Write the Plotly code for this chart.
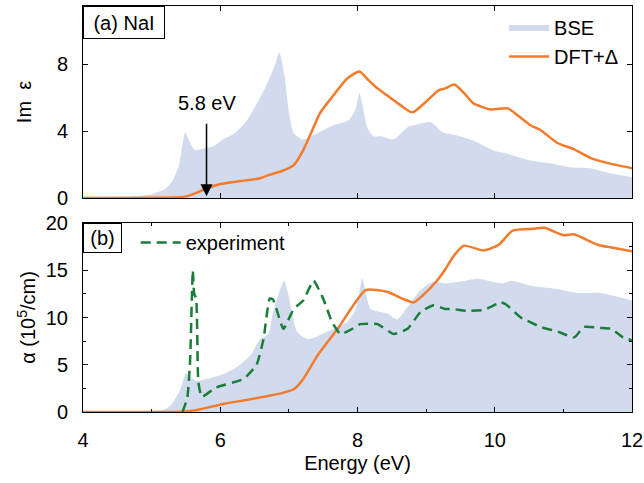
import plotly.graph_objects as go

# ---------- data ----------
# (a) Im epsilon, BSE
bse_eps_E = [4.0, 4.5, 4.8, 5.0, 5.2, 5.3, 5.4, 5.45, 5.49, 5.55, 5.63, 5.75, 5.9, 6.04, 6.2, 6.38,
             6.58, 6.7, 6.8, 6.86, 6.93, 7.0, 7.07, 7.2, 7.42, 7.65, 7.87, 7.97, 8.03, 8.09, 8.14, 8.23,
             8.34, 8.53, 8.73, 8.88, 9.07, 9.24, 9.45, 9.68, 10.01, 10.16, 10.5, 10.8, 11.1, 11.39,
             11.68, 12.0]
bse_eps = [0.0, 0.05, 0.12, 0.22, 0.55, 1.0, 2.0, 3.2, 3.94, 3.4, 2.87, 2.95, 3.1, 3.5, 3.85, 4.6,
           6.0, 7.0, 8.0, 8.72, 7.5, 5.2, 3.9, 3.5, 3.9, 4.36, 4.66, 5.3, 6.27, 5.2, 4.24, 3.7,
           3.7, 3.52, 4.24, 4.42, 4.54, 3.94, 3.75, 3.46, 2.8, 2.68, 2.27, 2.09, 1.85, 1.79,
           1.49, 1.25]

# (a) Im epsilon, DFT+Delta
dft_eps_E = [4.0, 5.0, 5.4, 5.5, 5.6, 5.75, 6.0, 6.3, 6.58, 6.7, 6.9, 7.07, 7.21, 7.36, 7.46, 7.65,
             7.85, 8.03, 8.15, 8.29, 8.43, 8.63, 8.8, 9.02, 9.18, 9.28, 9.41, 9.55, 9.69, 9.94,
             10.19, 10.35, 10.52, 10.67, 10.92, 11.15, 11.4, 11.65, 12.0]
dft_eps = [0.0, 0.02, 0.05, 0.1, 0.22, 0.48, 0.84, 1.02, 1.19, 1.37, 1.62, 1.97, 2.87, 4.24, 5.13, 6.15,
           7.16, 7.58, 7.1, 6.57, 6.15, 5.55, 5.13, 5.85, 6.45, 6.57, 6.8, 6.3, 5.67, 5.31,
           5.37, 4.9, 4.36, 4.06, 3.28, 2.93, 2.39, 2.09, 1.79]

# (b) absorption, BSE
bse_abs_E = [4.0, 4.5, 4.8, 5.0, 5.2, 5.3, 5.42, 5.5, 5.58, 5.65, 5.8, 6.04, 6.25, 6.44, 6.58, 6.7,
             6.77, 6.85, 6.93, 7.0, 7.12, 7.28, 7.56, 7.85, 7.98, 8.07, 8.13, 8.19, 8.44, 8.58,
             8.73, 8.92, 9.11, 9.28, 9.5, 9.75, 10.12, 10.23, 10.57, 10.92, 11.21, 11.55, 12.0]
bse_abs = [0.0, 0.02, 0.06, 0.12, 0.3, 0.9, 2.4, 4.1, 3.6, 3.3, 3.5, 4.0, 4.8, 6.0, 7.7, 8.25,
           10.6, 12.5, 13.9, 12.2, 8.5, 7.7, 8.5, 9.5, 11.0, 14.1, 12.3, 10.9, 10.4, 9.8,
           11.1, 12.9, 13.8, 13.6, 13.8, 14.1, 13.6, 13.9, 13.3, 13.0, 12.6, 12.6, 11.8]

# (b) absorption, DFT+Delta
dft_abs_E = [4.0, 5.0, 5.5, 5.71, 6.04, 6.4, 6.7, 6.9, 7.07, 7.21, 7.42, 7.71, 7.94, 8.12, 8.44,
             8.67, 8.82, 8.96, 9.17, 9.28, 9.41, 9.55, 9.84, 10.06, 10.26, 10.57, 10.72, 11.01,
             11.15, 11.5, 11.7, 12.0]
dft_abs = [0.0, 0.0, 0.05, 0.3, 0.85, 1.3, 1.7, 2.0, 2.4, 3.5, 6.0, 8.8, 11.3, 12.9, 12.7,
           11.95, 11.6, 12.4, 14.0, 15.1, 16.6, 17.6, 17.1, 17.7, 19.2, 19.4, 19.5, 18.7,
           18.8, 17.7, 17.4, 17.0]

# (b) absorption, experiment
exp_E = [5.45, 5.52, 5.56, 5.6, 5.62, 5.65, 5.68, 5.73, 5.94, 6.34, 6.53, 6.63, 6.72, 6.77,
         6.92, 7.07, 7.21, 7.36, 7.5, 7.63, 7.75, 7.9, 8.04, 8.29, 8.53, 8.73, 8.92, 9.11,
         9.28, 9.39, 9.58, 9.84, 10.09, 10.16, 10.38, 10.67, 10.92, 11.16, 11.3, 11.55, 11.7,
         11.87, 12.0]
exp_abs = [0.0, 1.5, 5.3, 15.0, 12.5, 12.0, 3.2, 1.6, 2.6, 3.5, 5.0, 7.7, 12.0, 11.9,
           8.8, 10.9, 11.8, 13.9, 12.0, 9.5, 8.25, 8.7, 9.3, 9.3, 8.25, 8.8, 10.6, 11.3,
           10.9, 10.9, 10.7, 10.8, 11.6, 11.4, 10.0, 9.0, 8.5, 7.9, 9.0, 8.9, 8.8,
           7.9, 7.6]

x_ticks = [4, 6, 8, 10, 12]
eps_ticks = [0, 4, 8]
abs_ticks = [0, 5, 10, 15, 20]

# ---------- styles ----------
FILL = "#d1dbed"
ORANGE = "#f47a2c"
GREEN = "#1b7d3a"
FONT = "Liberation Sans, Arial, sans-serif"
FS = 20

fig = go.Figure()

fig.add_trace(go.Scatter(x=bse_eps_E, y=bse_eps, mode="lines", fill="tozeroy",
                         fillcolor=FILL, line=dict(width=0, color=FILL, shape="spline", smoothing=0.6),
                         name="BSE", xaxis="x", yaxis="y", legend="legend"))
fig.add_trace(go.Scatter(x=dft_eps_E, y=dft_eps, mode="lines",
                         line=dict(width=2.5, color=ORANGE, shape="spline", smoothing=0.6),
                         name="DFT+Δ", xaxis="x", yaxis="y", legend="legend2"))

fig.add_trace(go.Scatter(x=bse_abs_E, y=bse_abs, mode="lines", fill="tozeroy",
                         fillcolor=FILL, line=dict(width=0, color=FILL, shape="spline", smoothing=0.6),
                         name="BSE", showlegend=False, xaxis="x2", yaxis="y2"))
fig.add_trace(go.Scatter(x=dft_abs_E, y=dft_abs, mode="lines",
                         line=dict(width=2.5, color=ORANGE, shape="spline", smoothing=0.6),
                         name="DFT+Δ", showlegend=False, xaxis="x2", yaxis="y2"))
fig.add_trace(go.Scatter(x=exp_E, y=exp_abs, mode="lines",
                         line=dict(width=2.5, color=GREEN, dash="10px,6px", shape="spline", smoothing=0.4),
                         name="experiment", xaxis="x2", yaxis="y2", legend="legend3"))

axis_common = dict(showline=True, linecolor="black", linewidth=1, mirror="allticks",
                   ticks="inside", ticklen=5, tickcolor="black", showgrid=False, zeroline=False,
                   automargin=False,
                   tickfont=dict(family=FONT, size=FS, color="black"))

fig.update_layout(
    width=644, height=483,
    margin=dict(l=83, r=12, t=6, b=71),
    paper_bgcolor="white", plot_bgcolor="white",
    font=dict(family=FONT, size=FS, color="black"),
    xaxis=dict(domain=[0, 1], range=[4, 12], tickvals=x_ticks, showticklabels=False,
               anchor="y", ticklabelstandoff=11, **axis_common),
    yaxis=dict(domain=[0.527, 1], range=[0, 11.5], tickvals=eps_ticks, anchor="x",
               ticklabelstandoff=10,
               title=dict(text="Im  ε", standoff=19, font=dict(family=FONT, size=FS)),
               **axis_common),
    xaxis2=dict(domain=[0, 1], range=[4, 12], tickvals=x_ticks, anchor="y2",
                ticklabelstandoff=10,
                minor=dict(dtick=1, tick0=4, ticks="inside", ticklen=3, tickcolor="black"),
                title=dict(text="Energy (eV)", standoff=5, font=dict(family=FONT, size=FS)),
                **axis_common),
    yaxis2=dict(domain=[0, 0.4655], range=[0, 20], tickvals=abs_ticks, anchor="x2",
                ticklabelstandoff=10,
                minor=dict(dtick=2.5, tick0=0, ticks="inside", ticklen=3, tickcolor="black"),
                title=dict(text="α (10<sup>5</sup>/cm)", standoff=4, font=dict(family=FONT, size=FS)),
                **axis_common),
    legend=dict(x=0.767, y=0.996, xanchor="left", yanchor="top", bgcolor="rgba(0,0,0,0)",
                font=dict(family=FONT, size=FS), itemwidth=40),
    legend2=dict(x=0.767, y=0.9236, xanchor="left", yanchor="top", bgcolor="rgba(0,0,0,0)",
                 font=dict(family=FONT, size=FS), itemwidth=40),
    legend3=dict(x=0.096, y=0.4655, xanchor="left", yanchor="top", bgcolor="rgba(0,0,0,0)",
                 font=dict(family=FONT, size=FS), itemwidth=40),
    annotations=[
        dict(text="(a) NaI", xref="x domain", yref="y domain", x=0, y=1, xanchor="left",
             yanchor="top", showarrow=False, bordercolor="black", borderwidth=1, borderpad=1,
             width=78, height=29, bgcolor="white", font=dict(family=FONT, size=FS)),
        dict(text="(b)", xref="x2 domain", yref="y2 domain", x=0, y=1, xanchor="left",
             yanchor="top", showarrow=False, bordercolor="black", borderwidth=1, borderpad=1,
             width=35, height=26, bgcolor="white", font=dict(family=FONT, size=FS)),
        dict(text="5.8 eV", x=5.8, y=0.1, xref="x", yref="y", ax=5.8, ay=5.67,
             axref="x", ayref="y", showarrow=True, arrowhead=2, arrowsize=1.6, arrowwidth=1.5,
             arrowcolor="black", startstandoff=8, font=dict(family=FONT, size=FS)),
    ],
)

fig.write_html("out.html", config={"displayModeBar": False},
               post_script="document.body.style.margin='0';")
